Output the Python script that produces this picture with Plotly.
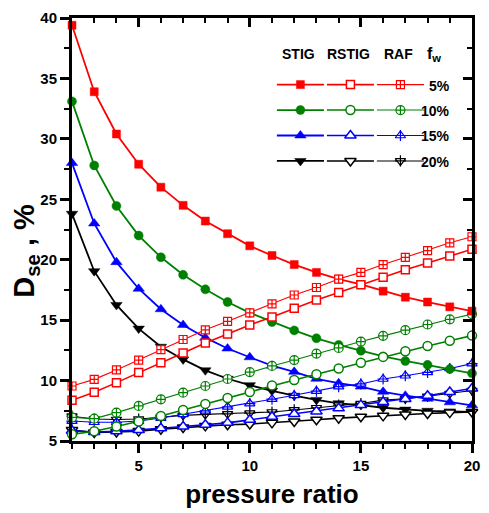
import plotly.graph_objects as go

# pressure ratio values shared by every series
pressure_ratio = list(range(2, 21))

# water fraction cases
fw_labels = ["5%", "10%", "15%", "20%"]
colors = ["#FF0000", "#008000", "#0000FF", "#000000"]

# D_se (%) for the STIG cycle
stig_5 = [39.4, 33.9, 30.4, 27.9, 26.0, 24.5, 23.2, 22.15, 21.15, 20.35, 19.6, 18.95, 18.4, 17.95, 17.4, 16.9, 16.5, 16.1, 15.75]
stig_10 = [33.1, 27.8, 24.45, 22.0, 20.2, 18.75, 17.55, 16.5, 15.6, 14.85, 14.15, 13.5, 12.95, 12.47, 12.0, 11.62, 11.3, 10.95, 10.6]
stig_15 = [28.0, 23.0, 19.8, 17.6, 15.9, 14.6, 13.55, 12.65, 11.93, 11.23, 10.72, 10.15, 9.78, 9.5, 9.07, 8.75, 8.5, 8.2, 7.95]
stig_20 = [23.8, 19.05, 16.26, 14.3, 12.8, 11.75, 10.85, 10.15, 9.62, 9.15, 8.75, 8.4, 8.12, 7.97, 7.75, 7.6, 7.5, 7.45, 7.4]

# D_se (%) for the RSTIG cycle
rstig_5 = [8.37, 9.03, 9.83, 10.67, 11.48, 12.29, 13.1, 13.85, 14.6, 15.26, 15.99, 16.66, 17.28, 17.92, 18.55, 19.17, 19.72, 20.3, 20.87]
rstig_10 = [5.55, 5.8, 6.2, 6.62, 7.07, 7.56, 8.07, 8.56, 9.05, 9.6, 10.05, 10.53, 11.0, 11.48, 11.96, 12.42, 12.86, 13.3, 13.72]
rstig_15 = [5.85, 5.75, 5.8, 5.9, 6.05, 6.2, 6.35, 6.5, 6.75, 7.0, 7.24, 7.45, 7.7, 7.97, 8.22, 8.48, 8.75, 9.05, 9.35]
rstig_20 = [5.9, 5.7, 5.75, 5.82, 5.98, 6.12, 6.25, 6.35, 6.4, 6.5, 6.62, 6.76, 6.89, 7.0, 7.08, 7.2, 7.28, 7.35, 7.4]

# D_se (%) for the RAF cycle
raf_5 = [9.55, 10.1, 10.88, 11.7, 12.56, 13.4, 14.2, 14.9, 15.6, 16.35, 17.08, 17.7, 18.4, 18.95, 19.6, 20.2, 20.75, 21.4, 21.9]
raf_10 = [6.95, 6.85, 7.35, 7.9, 8.45, 9.0, 9.55, 10.13, 10.7, 11.21, 11.7, 12.23, 12.7, 13.23, 13.7, 14.17, 14.64, 15.07, 15.5]
raf_15 = [6.65, 6.55, 6.55, 6.65, 6.9, 7.2, 7.5, 7.83, 8.1, 8.46, 8.78, 9.13, 9.5, 9.72, 10.13, 10.4, 10.67, 11.0, 11.4]
raf_20 = [7.05, 6.82, 6.78, 6.82, 6.97, 7.12, 7.2, 7.25, 7.3, 7.4, 7.57, 7.75, 7.97, 8.1, 8.38, 8.5, 8.7, 8.92, 9.18]

x_ticks = [5, 10, 15, 20]
y_ticks = [5, 10, 15, 20, 25, 30, 35, 40]
cycle_names = ["STIG", "RSTIG", "RAF"]

stig = [stig_5, stig_10, stig_15, stig_20]
rstig = [rstig_5, rstig_10, rstig_15, rstig_20]
raf = [raf_5, raf_10, raf_15, raf_20]

# marker styles per water fraction
filled_sym = ["square", "circle", "triangle-up", "triangle-down"]
filled_size = [8, 9, 10, 10]
raf_sym = ["square-cross", "circle-cross", "triangle-up", "triangle-down"]
raf_size = [8, 9, 9, 9]
raf_needs_cross = [False, False, True, True]

FONT = "Liberation Sans, Arial, sans-serif"

fig = go.Figure()


def style(kind, i, color):
    """Line width and marker dict for one cycle / water-fraction combination."""
    if kind == "STIG":
        return 1.8, dict(symbol=filled_sym[i], size=filled_size[i], color=color,
                         line=dict(color=color, width=0.5))
    if kind == "RSTIG":
        return 1.6, dict(symbol=filled_sym[i], size=filled_size[i], color="white",
                         line=dict(color=color, width=1.5))
    return 1.1, dict(symbol=raf_sym[i], size=raf_size[i], color="white",
                     line=dict(color=color, width=1.2))


def add_line(fig, x, y, color, kind, i, xa="x", ya="y"):
    lw, _ = style(kind, i, color)
    fig.add_trace(go.Scatter(x=x, y=y, mode="lines", xaxis=xa, yaxis=ya,
                             line=dict(color=color, width=lw), cliponaxis=False,
                             showlegend=False, hoverinfo="skip"))


def add_markers(fig, x, y, color, kind, i, xa="x", ya="y"):
    _, mk = style(kind, i, color)
    fig.add_trace(go.Scatter(x=x, y=y, mode="markers", xaxis=xa, yaxis=ya,
                             marker=mk, cliponaxis=False,
                             showlegend=False, hoverinfo="skip"))
    if kind == "RAF" and raf_needs_cross[i]:
        fig.add_trace(go.Scatter(
            x=x, y=y, mode="markers", xaxis=xa, yaxis=ya, cliponaxis=False,
            marker=dict(symbol="cross-thin-open", size=raf_size[i] - 1,
                        color=color, line=dict(color=color, width=1.2)),
            showlegend=False, hoverinfo="skip"))


# data series, red drawn last
for i in [3, 2, 1, 0]:
    for kind, arr in (("STIG", stig), ("RSTIG", rstig), ("RAF", raf)):
        add_line(fig, pressure_ratio, arr[i], colors[i], kind, i)
        add_markers(fig, pressure_ratio, arr[i], colors[i], kind, i)

# invisible trace so the mirrored tick axes are drawn
fig.add_trace(go.Scatter(x=[2, 20], y=[5, 40], xaxis="x2", yaxis="y2", mode="markers",
                         marker=dict(opacity=0), showlegend=False, hoverinfo="skip"))

# legend block laid out in plot-area pixel units on a hidden axis pair
leg_col_x = [233, 284, 335]
leg_row_y = [68, 94, 120, 146]
leg_half = 24
for i in range(4):
    for j, kind in enumerate(cycle_names):
        cx = leg_col_x[j]
        add_line(fig, [cx - leg_half, cx + leg_half], [leg_row_y[i]] * 2,
                 colors[i], kind, i, xa="x3", ya="y3")
        add_markers(fig, [cx], [leg_row_y[i]], colors[i], kind, i, xa="x3", ya="y3")

annotations = []
for j, name in enumerate(cycle_names):
    annotations.append(dict(x=leg_col_x[j] - 2, y=37, xref="x3", yref="y3", text=name,
                            showarrow=False, xanchor="center", yanchor="middle",
                            font=dict(family=FONT, size=14, color="black", weight="bold")))
annotations.append(dict(x=360, y=37, xref="x3", yref="y3", text="f<sub>w</sub>",
                        showarrow=False, xanchor="left", yanchor="middle",
                        font=dict(family=FONT, size=16, color="black", weight="bold")))
for i, lab in enumerate(fw_labels):
    annotations.append(dict(x=388, y=leg_row_y[i] + 1, xref="x3", yref="y3", text=lab,
                            showarrow=False, xanchor="right", yanchor="middle",
                            font=dict(family=FONT, size=14, color="black", weight="bold")))
# vertical axis title
annotations.append(dict(x=-0.115, y=0.45, xref="paper", yref="paper", text="D<sub>se</sub> , %",
                        textangle=-90, showarrow=False, xanchor="center", yanchor="middle",
                        font=dict(family=FONT, size=29, color="black", weight="bold")))

fig.update_layout(
    width=489, height=513,
    margin=dict(l=72, r=9, t=13, b=68),
    paper_bgcolor="white", plot_bgcolor="white",
    showlegend=False,
    annotations=annotations,
    xaxis=dict(range=[2, 20], tickvals=x_ticks, ticks="outside", ticklen=9, tickwidth=2.5,
               tickcolor="black", showline=True, linewidth=3, linecolor="black", mirror=True,
               showgrid=False, zeroline=False,
               minor=dict(dtick=1, tick0=2, ticks="outside", ticklen=5, tickwidth=2, tickcolor="black"),
               tickfont=dict(family=FONT, size=15, color="black", weight="bold"),
               title=dict(text="pressure ratio", standoff=12,
                          font=dict(family=FONT, size=26, color="black", weight="bold"))),
    yaxis=dict(range=[5, 40], tickvals=y_ticks, ticks="outside", ticklen=9, tickwidth=2.5,
               tickcolor="black", showline=True, linewidth=3, linecolor="black", mirror=True,
               showgrid=False, zeroline=False,
               minor=dict(dtick=2.5, tick0=5, ticks="outside", ticklen=5, tickwidth=2, tickcolor="black"),
               tickfont=dict(family=FONT, size=15, color="black", weight="bold")),
    xaxis2=dict(range=[2, 20], overlaying="x", side="top", tickvals=x_ticks, ticks="inside",
                ticklen=9, tickwidth=2.5, tickcolor="black", showticklabels=False,
                showgrid=False, zeroline=False, showline=False,
                minor=dict(dtick=1, tick0=2, ticks="inside", ticklen=5, tickwidth=2, tickcolor="black")),
    yaxis2=dict(range=[5, 40], overlaying="y", side="right", tickvals=y_ticks, ticks="inside",
                ticklen=9, tickwidth=2.5, tickcolor="black", showticklabels=False,
                showgrid=False, zeroline=False, showline=False,
                minor=dict(dtick=2.5, tick0=5, ticks="inside", ticklen=5, tickwidth=2, tickcolor="black")),
    xaxis3=dict(range=[0, 408], overlaying="x", visible=False, fixedrange=True),
    yaxis3=dict(range=[432, 0], overlaying="y", visible=False, fixedrange=True),
)

fig.write_html("out.html")
